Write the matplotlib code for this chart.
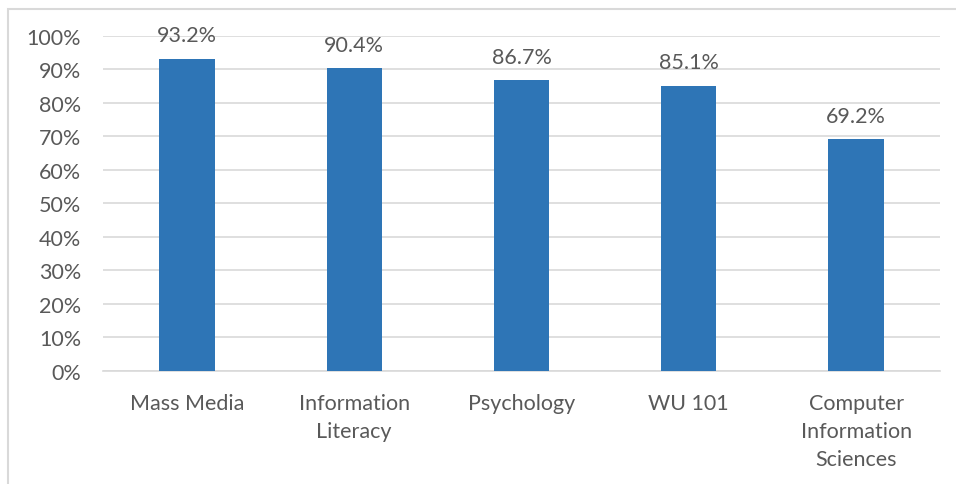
import matplotlib.pyplot as plt
from matplotlib.patches import Rectangle

courses = ["Mass Media", "Information\nLiteracy", "Psychology", "WU 101",
           "Computer\nInformation\nSciences"]
pct = [93.2, 90.4, 86.7, 85.1, 69.2]
yticks = [0, 10, 20, 30, 40, 50, 60, 70, 80, 90, 100]

plt.rcParams['font.family'] = ['Lato', 'DejaVu Sans']
txt = '#595959'
grid = '#d9d9d9'

fig = plt.figure(figsize=(9.56, 4.85), dpi=100)
# outer chart frame (partially cropped)
fig.patches.append(Rectangle((0.008, -0.05), 1.2, 1.029, transform=fig.transFigure,
                             fill=False, edgecolor=grid, linewidth=1.5))

ax = fig.add_axes([0.108, 0.233, 0.875, 0.691])
x = range(len(courses))
ax.bar(x, pct, width=0.33, color='#2E75B6', zorder=3)
for xi, v in zip(x, pct):
    ax.text(xi, v + 4.0, f"{v:.1f}%", ha='center', va='bottom', fontsize=15.5, color=txt)

ax.set_ylim(0, 100)
ax.set_xlim(-0.5, len(courses) - 0.5)
ax.set_yticks(yticks)
ax.set_yticklabels([f"{t}%" for t in yticks])
ax.set_xticks(list(x))
ax.set_xticklabels(courses, linespacing=1.5)
ax.tick_params(axis='both', length=0, labelsize=15.5, labelcolor=txt)
ax.tick_params(axis='y', pad=16)
ax.tick_params(axis='x', pad=16)
ax.grid(axis='y', color=grid, linewidth=1.2, zorder=0)
for s in ['top', 'right', 'left']:
    ax.spines[s].set_visible(False)
ax.spines['bottom'].set_color(grid)
ax.spines['bottom'].set_linewidth(1.2)

fig.savefig('out.png', dpi=100)
